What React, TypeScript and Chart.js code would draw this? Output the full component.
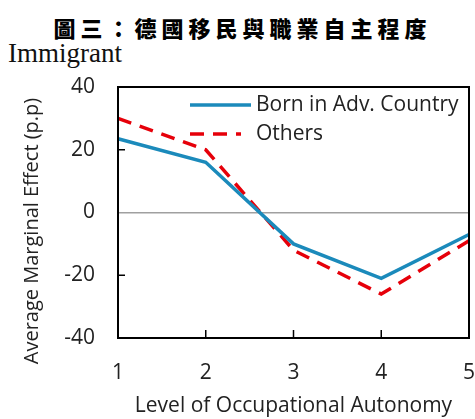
import React, { useEffect, useRef } from "react";
import { Chart, registerables } from "chart.js";

Chart.register(...registerables);

const chartTitle = "圖三：德國移民與職業自主程度";
const subTitle = "Immigrant";
const categories = ["1", "2", "3", "4", "5"];
const bornAdv = [23.5, 16, -10, -21, -7];
const others = [30, 20, -12, -26, -9];
const seriesNames = ["Born in Adv. Country", "Others"];
const yTicks = [-40, -20, 0, 20, 40];
const xTitle = "Level of Occupational Autonomy";
const yTitle = "Average Marginal Effect (p.p)";

const BLUE = "#1b8abb";
const RED = "#e6000a";
const FONT = "'Open Sans', 'Noto Sans', sans-serif";

const framePlugin = {
  id: "frame",
  afterDraw(chart: any) {
    const { ctx, chartArea } = chart;
    const { left, right, top, bottom } = chartArea;
    ctx.save();
    ctx.strokeStyle = "#000";
    ctx.lineWidth = 1.5;
    const ys = chart.scales.y;
    for (const v of yTicks) {
      if (v === 0 || v === 40 || v === -40) continue;
      const py = ys.getPixelForValue(v);
      ctx.beginPath();
      ctx.moveTo(left, py);
      ctx.lineTo(left + 7, py);
      ctx.stroke();
    }
    const xs = chart.scales.x;
    for (let i = 1; i < categories.length - 1; i++) {
      const px = xs.getPixelForValue(i);
      ctx.beginPath();
      ctx.moveTo(px, bottom);
      ctx.lineTo(px, bottom - 8);
      ctx.stroke();
    }
    ctx.lineWidth = 2;
    ctx.strokeRect(left, top, right - left, bottom - top);
    ctx.font = `21px ${FONT}`;
    ctx.textBaseline = "middle";
    ctx.fillStyle = "#222";
    const lx0 = 190, lx1 = 251, tx = 256;
    const rows = [105, 134];
    ctx.lineWidth = 3.5;
    ctx.strokeStyle = BLUE;
    ctx.setLineDash([]);
    ctx.beginPath();
    ctx.moveTo(lx0, rows[0]);
    ctx.lineTo(lx1, rows[0]);
    ctx.stroke();
    ctx.strokeStyle = RED;
    ctx.setLineDash([14, 9]);
    ctx.beginPath();
    ctx.moveTo(lx0, rows[1]);
    ctx.lineTo(lx1 - 10, rows[1]);
    ctx.stroke();
    ctx.setLineDash([]);
    ctx.fillText(seriesNames[0], tx, rows[0]);
    ctx.fillText(seriesNames[1], tx, rows[1]);
    ctx.translate(32, 231);
    ctx.rotate(-Math.PI / 2);
    ctx.textAlign = "center";
    ctx.font = `20px ${FONT}`;
    ctx.fillText(yTitle, 0, 0);
    ctx.restore();
  },
};

export default function App() {
  const ref = useRef<HTMLCanvasElement | null>(null);
  useEffect(() => {
    if (!ref.current) return;
    const chart = new Chart(ref.current, {
      type: "line",
      data: {
        labels: categories,
        datasets: [
          {
            label: seriesNames[0],
            data: bornAdv,
            borderColor: BLUE,
            borderWidth: 3.5,
            pointRadius: 0,
            tension: 0,
            fill: false,
          },
          {
            label: seriesNames[1],
            data: others,
            borderColor: RED,
            borderWidth: 3.5,
            borderDash: [14, 9],
            pointRadius: 0,
            tension: 0,
            fill: false,
          },
        ],
      },
      options: {
        responsive: false,
        animation: false,
        layout: { padding: { left: 0, right: 6, top: 87, bottom: 0 } },
        plugins: { legend: { display: false }, tooltip: { enabled: false } },
        scales: {
          x: {
            type: "category",
            offset: false,
            grid: { display: false, drawTicks: false },
            border: { display: false },
            ticks: { color: "#222", font: { family: FONT, size: 21 }, padding: 22 },
            title: {
              display: true,
              text: xTitle,
              color: "#222",
              font: { family: FONT, size: 21 },
              padding: { top: 9, bottom: 0 },
            },
            afterFit: (s: any) => {
              s.height = 81;
              s.paddingLeft = 0;
              s.paddingRight = 0;
            },
          },
          y: {
            min: -40,
            max: 40,
            afterBuildTicks: (s: any) => {
              s.ticks = yTicks.map((v) => ({ value: v }));
            },
            grid: {
              drawTicks: false,
              color: (c: any) => (c.tick && c.tick.value === 0 ? "#a0a0a0" : "rgba(0,0,0,0)"),
              lineWidth: 1.5,
            },
            border: { display: false },
            ticks: { color: "#222", font: { family: FONT, size: 21 }, padding: 23 },
            afterFit: (s: any) => {
              s.width = 118;
              s.paddingTop = 0;
              s.paddingBottom = 0;
            },
          },
        },
      },
      plugins: [framePlugin],
    });
    return () => chart.destroy();
  }, []);
  return (
    <div style={{ position: "absolute", left: 0, top: 0, width: 475, height: 419, background: "#fff" }}>
      <div
        style={{
          position: "absolute",
          left: 0,
          top: 12,
          width: 485,
          textAlign: "center",
          fontFamily: "'Noto Sans CJK TC', sans-serif",
          fontWeight: 900,
          fontSize: 22,
          letterSpacing: 5,
          lineHeight: "30px",
          color: "#000",
        }}
      >
        {chartTitle}
      </div>
      <div
        style={{
          position: "absolute",
          left: 8,
          top: 38,
          fontFamily: "'Liberation Serif', serif",
          fontSize: 27,
          lineHeight: "30px",
          color: "#111",
        }}
      >
        {subTitle}
      </div>
      <canvas ref={ref} width={475} height={419} style={{ position: "absolute", left: 0, top: 0 }} />
    </div>
  );
}
